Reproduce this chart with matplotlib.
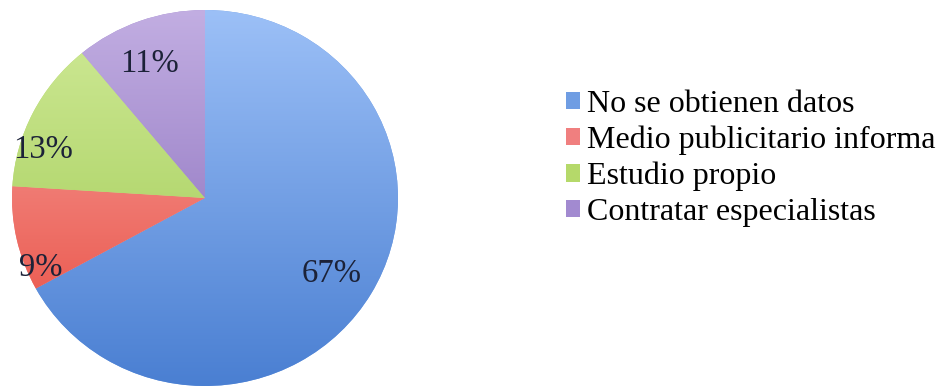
import numpy as np
import matplotlib
matplotlib.use("Agg")
import matplotlib.pyplot as plt
from matplotlib.colors import LinearSegmentedColormap
from matplotlib.patches import Patch

# Data
categories = ["No se obtienen datos", "Medio publicitario informa",
              "Estudio propio", "Contratar especialistas"]
shares = [67, 9, 13, 11]
pct_labels = ["67%", "9%", "13%", "11%"]

# light (top) / dark (bottom) shade of each slice, Excel-style gradient
light = ["#9cc0f7", "#f7aaa6", "#d0ea98", "#c2aee2"]
dark = ["#4a7fd2", "#e8463a", "#9bc74c", "#7f62b5"]
base = ["#6f9de3", "#f07f7f", "#b5d96a", "#a28ad0"]
# label placement: radius (fraction of pie) and angle nudge (deg) from slice middle
label_r = [0.77, 0.93, 0.88, 0.77]
label_nudge = [-1, 11, 10, 2]

plt.rcParams["font.family"] = ["Liberation Serif", "DejaVu Serif"]

fig = plt.figure(figsize=(9.45, 3.9), dpi=100)
ax = fig.add_axes([12 / 945, (390 - 198 - 188) / 390, 386 / 945, 376 / 390])

wedges, _ = ax.pie(shares, startangle=90, counterclock=False, colors=base,
                   radius=1.0, wedgeprops=dict(linewidth=0))

grad = np.linspace(0, 1, 256).reshape(-1, 1)
for w, lo, hi in zip(wedges, light, dark):
    cmap = LinearSegmentedColormap.from_list("g", [lo, hi])
    im = ax.imshow(grad, cmap=cmap, extent=[-1, 1, -1, 1], origin="upper",
                   aspect="auto", zorder=2)
    im.set_clip_path(w)

for w, txt, r, dn in zip(wedges, pct_labels, label_r, label_nudge):
    mid = np.deg2rad((w.theta1 + w.theta2) / 2 + dn)
    ax.text(r * np.cos(mid), r * np.sin(mid), txt, ha="center", va="center",
            fontsize=23.5, color="#1c2238", zorder=3)

ax.set_xlim(-1.0, 1.0)
ax.set_ylim(-1.0, 1.0)
ax.set_aspect("auto")
ax.axis("off")

handles = [Patch(facecolor=c, edgecolor="none") for c in base]
fig.legend(handles, categories, loc="upper left", bbox_to_anchor=(566 / 945, 1 - 90 / 390),
           frameon=False, fontsize=23, handlelength=0.45, handleheight=0.45,
           handletextpad=0.2, labelspacing=0.21, borderaxespad=0, borderpad=0)

fig.savefig("out.png", dpi=100)
